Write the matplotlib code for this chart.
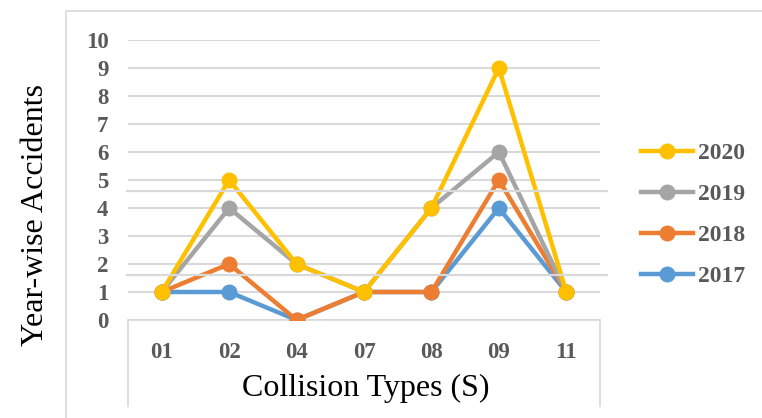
import matplotlib
matplotlib.use("Agg")
import matplotlib.pyplot as plt
from matplotlib.lines import Line2D

plt.rcParams['font.family'] = ['Liberation Serif', 'DejaVu Serif']

# data
collision_types = ['01', '02', '04', '07', '08', '09', '11']
acc_2017 = [1, 1, 0, 1, 1, 4, 1]
acc_2018 = [1, 2, 0, 1, 1, 5, 1]
acc_2019 = [1, 4, 2, 1, 4, 6, 1]
acc_2020 = [1, 5, 2, 1, 4, 9, 1]
years = ['2017', '2018', '2019', '2020']
colors = ['#5B9BD5', '#ED7D31', '#A5A5A5', '#FFC000']
y_ticks = list(range(0, 11))

W, H = 762, 418
fig = plt.figure(figsize=(W / 100, H / 100), dpi=100)
ax = fig.add_axes([128 / W, 1 - 320 / H, 472 / W, 280 / H])

x = range(len(collision_types))
handles = []
for yr, vals, c in zip(years, [acc_2017, acc_2018, acc_2019, acc_2020], colors):
    h, = ax.plot(x, vals, color=c, lw=3.2, marker='o', markersize=10.5,
                 label=yr, solid_joinstyle='miter', zorder=3)
    handles.append(h)

ax.set_xlim(-0.5, len(collision_types) - 0.5)
ax.set_ylim(0, 10)
ax.set_yticks(y_ticks)
ax.set_xticks(list(x))
ax.set_xticklabels(collision_types)
ax.yaxis.grid(True, color='#D9D9D9', lw=1.5)
ax.set_axisbelow(True)
for s in ['top', 'right', 'left']:
    ax.spines[s].set_visible(False)
ax.spines['bottom'].set_color('#D9D9D9')
ax.spines['bottom'].set_linewidth(1.2)
ax.tick_params(length=0)
ax.tick_params(axis='x', pad=16)
ax.tick_params(axis='y', pad=14)
for lab in ax.get_xticklabels() + ax.get_yticklabels():
    lab.set_fontweight('bold')
    lab.set_fontsize(16.5)
    lab.set_color('#595959')

fig.text(36 / W, 1 - 215 / H, 'Year-wise Accidents', rotation=90,
         ha='center', va='center', fontsize=23)
fig.text(366 / W, 1 - 388 / H, 'Collision Types (S)',
         ha='center', va='center', fontsize=23)

leg = fig.legend(handles[::-1], years[::-1], loc='center left',
                 bbox_to_anchor=(641 / W, 1 - 215 / H), bbox_transform=fig.transFigure,
                 frameon=False, borderpad=0, borderaxespad=0, handlelength=2.2,
                 handletextpad=0.2, labelspacing=0.82,
                 prop={'weight': 'bold', 'size': 17})
for t in leg.get_texts():
    t.set_color('#595959')

# frame lines around the chart area
def fline(xs, ys, lw=1.2):
    fig.add_artist(Line2D([v / W for v in xs], [1 - v / H for v in ys],
                          color='#D9D9D9', lw=lw, transform=fig.transFigure))

fline([66, 66, W], [H, 11, 11])
fline([128, 128], [320, 406])
fline([600, 600], [320, 406])
fline([127, 607], [191, 191], lw=1.6)
fline([127, 607], [275, 275], lw=1.6)

fig.savefig('out.png', dpi=100)
